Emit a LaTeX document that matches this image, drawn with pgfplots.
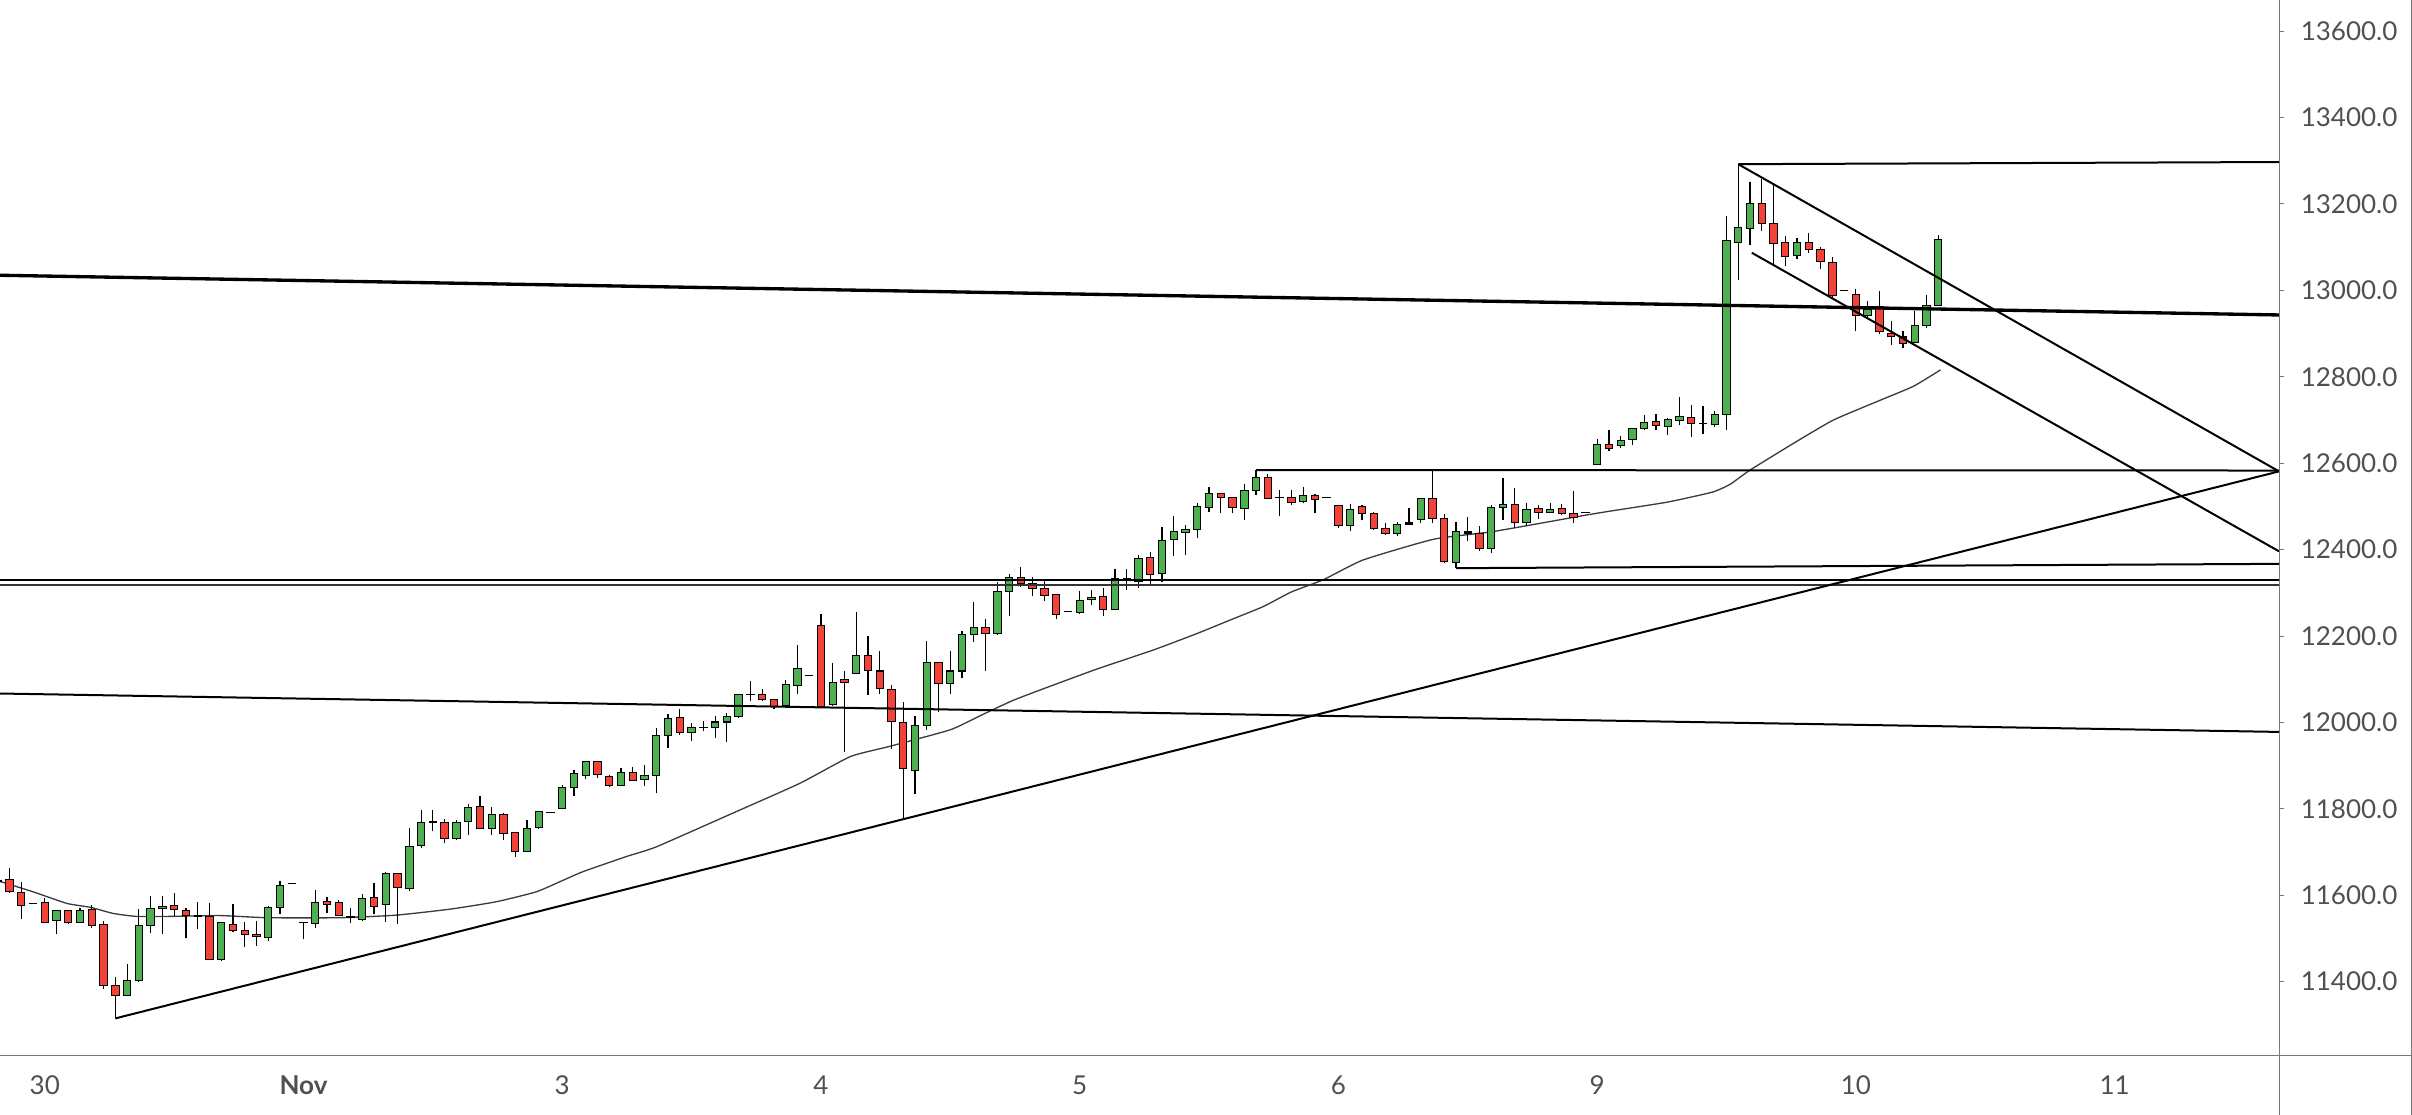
\documentclass[border=0pt]{standalone}
\usepackage{pgfplots}
\pgfplotsset{compat=1.18}
\usepackage{pgfplotstable}
\usepackage{fontspec}
\setmainfont{Lato}

\definecolor{upc}{RGB}{76,175,80}
\definecolor{dnc}{RGB}{244,67,54}
\definecolor{axc}{RGB}{120,120,120}
\definecolor{lblc}{RGB}{80,80,80}
\definecolor{mac}{RGB}{60,60,60}

% hourly candles, index = bar number
\pgfplotstableread{
i O H L C
0 11633 11640 11625 11631
1 11637 11662 11606 11609
2 11607 11630 11544 11577
3 11582 11582 11582 11582
4 11584 11593 11535 11537
5 11542 11567 11510 11565
6 11565 11566 11534 11537
7 11537 11570 11536 11565
8 11568 11578 11525 11530
9 11533 11540 11384 11391
10 11392 11411 11315 11368
11 11368 11440 11366 11403
12 11402 11568 11400 11531
13 11530 11598 11512 11570
14 11570 11598 11510 11575
15 11577 11605 11551 11567
16 11565 11570 11500 11554
17 11552 11584 11523 11552
18 11551 11581 11450 11452
19 11452 11536 11448 11536
20 11533 11580 11514 11519
21 11519 11538 11481 11510
22 11510 11541 11483 11505
23 11503 11575 11493 11572
24 11572 11632 11556 11622
25 11628 11628 11628 11628
26 11538 11538 11498 11537
27 11535 11612 11525 11584
28 11586 11596 11558 11579
29 11584 11588 11553 11554
30 11550 11570 11535 11549
31 11544 11603 11541 11593
32 11595 11628 11557 11574
33 11579 11654 11539 11651
34 11651 11652 11534 11618
35 11616 11756 11609 11713
36 11715 11797 11709 11769
37 11770 11797 11748 11769
38 11769 11776 11720 11732
39 11732 11774 11727 11769
40 11771 11811 11739 11804
41 11806 11830 11753 11755
42 11755 11805 11739 11787
43 11787 11790 11727 11743
44 11746 11747 11689 11702
45 11702 11774 11700 11755
46 11757 11795 11753 11794
47 11792 11792 11792 11792
48 11801 11855 11801 11850
49 11850 11890 11829 11882
50 11878 11910 11868 11910
51 11910 11911 11871 11880
52 11875 11878 11850 11855
53 11855 11894 11855 11885
54 11885 11896 11864 11866
55 11868 11902 11852 11878
56 11878 11986 11836 11970
57 11970 12020 11940 12010
58 12012 12031 11970 11977
59 11977 11998 11956 11989
60 11988 12003 11981 11988
61 11989 12016 11963 12001
62 12001 12021 11954 12014
63 12014 12066 12010 12065
64 12065 12095 12049 12064
65 12065 12077 12049 12054
66 12054 12055 12031 12037
67 12040 12098 12038 12088
68 12086 12179 12065 12125
69 12109 12109 12109 12109
70 12225 12250 12033 12037
71 12042 12137 12037 12093
72 12100 12118 11931 12093
73 12114 12255 12114 12156
74 12156 12199 12063 12121
75 12119 12165 12065 12079
76 12077 12086 11938 12003
77 12000 12047 11776 11894
78 11889 12014 11834 11993
79 11993 12188 11982 12139
80 12139 12140 12024 12091
81 12091 12165 12065 12119
82 12119 12211 12102 12204
83 12204 12278 12186 12220
84 12220 12239 12118 12206
85 12206 12324 12202 12304
86 12304 12343 12246 12336
87 12336 12359 12313 12322
88 12322 12336 12292 12311
89 12311 12329 12280 12294
90 12297 12298 12239 12250
91 12257 12257 12257 12257
92 12255 12304 12250 12283
93 12285 12306 12271 12290
94 12292 12311 12246 12262
95 12262 12355 12262 12334
96 12331 12355 12306 12334
97 12327 12387 12311 12380
98 12382 12394 12318 12343
99 12345 12452 12324 12422
100 12424 12477 12385 12442
101 12440 12456 12387 12447
102 12447 12507 12426 12500
103 12498 12544 12486 12530
104 12530 12531 12484 12521
105 12521 12522 12484 12498
106 12496 12551 12468 12537
107 12537 12584 12526 12567
108 12567 12574 12517 12519
109 12521 12537 12477 12521
110 12521 12537 12503 12510
111 12512 12544 12507 12526
112 12526 12528 12484 12517
113 12521 12521 12521 12521
114 12503 12504 12449 12456
115 12456 12505 12442 12493
116 12500 12503 12468 12484
117 12484 12486 12445 12449
118 12449 12461 12433 12438
119 12438 12463 12431 12459
120 12459 12496 12456 12463
121 12470 12519 12461 12519
122 12519 12586 12461 12473
123 12473 12482 12368 12372
124 12370 12463 12357 12442
125 12442 12475 12419 12438
126 12438 12454 12396 12403
127 12403 12503 12392 12498
128 12498 12565 12468 12505
129 12505 12542 12449 12463
130 12463 12507 12454 12493
131 12496 12503 12470 12486
132 12486 12507 12485 12493
133 12496 12505 12479 12484
134 12484 12535 12461 12475
135 12486 12486 12486 12486
136 12597 12655 12597 12644
137 12644 12676 12628 12635
138 12641 12662 12635 12653
139 12655 12681 12642 12681
140 12681 12711 12676 12695
141 12697 12713 12676 12688
142 12685 12704 12665 12702
143 12699 12753 12688 12709
144 12706 12734 12660 12692
145 12692 12732 12667 12692
146 12690 12720 12683 12713
147 12713 13172 12676 13116
148 13111 13292 13024 13146
149 13144 13250 13104 13202
150 13202 13257 13137 13155
151 13155 13246 13058 13109
152 13111 13125 13056 13079
153 13081 13121 13072 13111
154 13111 13132 13086 13095
155 13095 13100 13049 13067
156 13065 13077 12982 12989
157 13000 13000 13000 13000
158 12991 13003 12905 12942
159 12942 12975 12938 12956
160 12963 12998 12898 12905
161 12901 12929 12873 12894
162 12892 12905 12866 12878
163 12880 12952 12878 12919
164 12919 12989 12912 12966
165 12966 13128 12966 13118
}\candles

% moving average
\pgfplotstableread{
i v
0.19 11632
3.0 11608
5.9 11581
7.9 11572
9.8 11558
11.8 11551
14.4 11551
18.9 11553
22.9 11548
29.1 11548
33.9 11554
38.5 11568
42.4 11585
45.8 11608
48.1 11635
49.8 11655
53.5 11690
56.0 11712
62.5 11790
68.2 11859
72.5 11921
75.9 11945
81.0 11983
83.5 12015
86.6 12054
93.2 12121
98.3 12168
102.0 12206
104.8 12237
107.6 12268
110.0 12302
112.7 12330
116.1 12376
122.1 12424
127.2 12442
135.1 12480
137.1 12489
142.0 12510
145.8 12533
147.3 12551
149.0 12584
152.7 12646
156.1 12700
160.1 12746
162.9 12778
165.2 12816
}\ma

\begin{document}
\begin{tikzpicture}[x=0.3pt,y=0.3pt]
\useasboundingbox (0,-59) rectangle (2412,1056);
\begin{axis}[
  at={(0pt,0pt)}, anchor=south west, scale only axis,
  width=683.7pt, height=316.8pt,
  xmin=0.192, xmax=193.98, ymin=11228, ymax=13672,
  axis line style={draw=none},
  xtick={4,26,48,70,92,114,136,158,180},
  xticklabels={30,\textbf{Nov},3,4,5,6,9,10,11},
  xtick style={draw=none},
  ytick={11400,11600,...,13600},
  ytick style={draw=axc, line width=0.3pt},
  xtick pos=bottom, ytick pos=right, yticklabel pos=right,
  tick align=outside, major tick length=1.5pt,
  scaled y ticks=false,
  yticklabel style={/pgf/number format/fixed, /pgf/number format/fixed zerofill,
    /pgf/number format/precision=1, /pgf/number format/1000 sep={},
    /pgf/number format/assume math mode=true, xshift=1.5pt},
  ticklabel style={font=\fontsize{7.8}{9}\selectfont, text=lblc},
  xticklabel style={yshift=-1pt},
]
% moving average
\addplot[mac, line width=0.4pt, smooth, tension=0.3] table[x=i, y=v] {\ma};

% wicks
\addplot[draw=none, forget plot, error bars/.cd, y dir=plus, y explicit, error mark=none,
  error bar style={draw=black, line width=0.36pt}]
  table[x=i, y=L, y error expr=\thisrow{H}-\thisrow{L}] {\candles};
% body outlines
\addplot[draw=none, forget plot, error bars/.cd, y dir=plus, y explicit, error mark=none,
  error bar style={draw=black, line width=2.5pt, line cap=butt}]
  table[x=i, y expr={min(\thisrow{O},\thisrow{C})-1.2}, y error expr={abs(\thisrow{C}-\thisrow{O})+2.4}] {\candles};
% up bodies
\addplot[draw=none, forget plot, restrict expr to domain={\thisrow{C}-\thisrow{O}}{4.7:100000},
  error bars/.cd, y dir=plus, y explicit, error mark=none,
  error bar style={draw=upc, line width=1.9pt, line cap=butt}]
  table[x=i, y expr={\thisrow{O}+1.2}, y error expr={\thisrow{C}-\thisrow{O}-2.4}] {\candles};
% down bodies
\addplot[draw=none, forget plot, restrict expr to domain={\thisrow{O}-\thisrow{C}}{4.7:100000},
  error bars/.cd, y dir=plus, y explicit, error mark=none,
  error bar style={draw=dnc, line width=1.9pt, line cap=butt}]
  table[x=i, y expr={\thisrow{C}+1.2}, y error expr={\thisrow{O}-\thisrow{C}-2.4}] {\candles};

% drawn trend lines
\addplot[black, line width=1pt] coordinates {(0,13035) (194,12943)};
\addplot[black, line width=0.6pt] coordinates {(0,12067) (194,11978)};
\addplot[black, line width=0.6pt] coordinates {(0,12330) (194,12330)};
\addplot[black!80, line width=0.5pt] coordinates {(0,12318) (194,12318)};
\addplot[black, line width=0.6pt] coordinates {(10,11315) (193.98,12581)};
\addplot[black, line width=0.6pt] coordinates {(107,12584) (194,12583)};
\addplot[black, line width=0.6pt] coordinates {(124,12357) (194,12367)};
\addplot[black, line width=0.6pt] coordinates {(148,13292) (194,13297)};
\addplot[black, line width=0.6pt] coordinates {(148,13292) (193.98,12581)};
\addplot[black, line width=0.6pt] coordinates {(149.15,13087) (193.98,12396)};

% small day ticks on the time axis
\addplot[draw=none, forget plot, error bars/.cd, y dir=minus, y explicit, error mark=none,
  error bar style={draw=axc, line width=0.3pt}]
  coordinates {(26,11228) -= (0,11) (48,11228) -= (0,11) (114,11228) -= (0,11)
               (136,11228) -= (0,11) (158,11228) -= (0,11) (180,11228) -= (0,11)};
\end{axis}
% frame
\draw[axc, line width=0.3pt] (0,0) -- (2412,0);
\draw[axc, line width=0.3pt] (2279,-59) -- (2279,1056);
\draw[axc, line width=0.3pt] (2411.5,-59) -- (2411.5,1056);
\end{tikzpicture}
\end{document}
